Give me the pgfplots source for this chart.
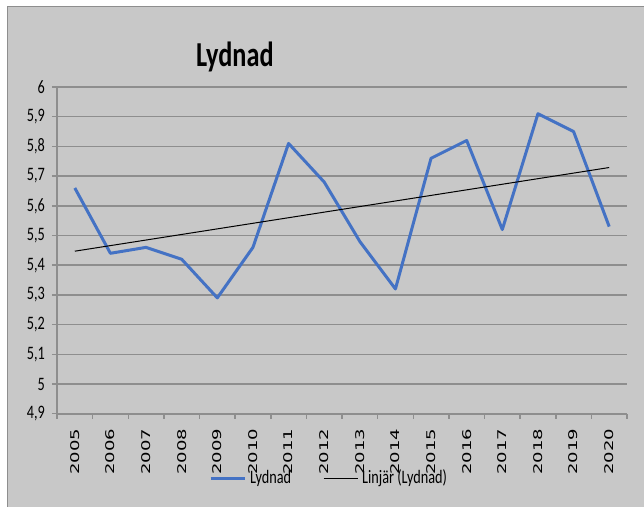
\documentclass[border=0pt]{standalone}
\usepackage{fontspec}
\setmainfont{Carlito}[FakeStretch=0.75]
\newfontfamily\yrfont{DejaVu Sans}[FakeStretch=1.5]
\usepackage{pgfplots}
\usepackage{pgfplotstable}
\pgfplotsset{compat=1.18}

\definecolor{bg}{HTML}{C8C8C8}
\definecolor{gridc}{HTML}{8E8E8E}
\definecolor{lyd}{HTML}{4472C4}

% Lydnad per year (x = index, 0 = 2005)
\pgfplotstableread{
x year y
0  2005 5.66
1  2006 5.44
2  2007 5.46
3  2008 5.42
4  2009 5.29
5  2010 5.46
6  2011 5.81
7  2012 5.68
8  2013 5.48
9  2014 5.32
10 2015 5.76
11 2016 5.82
12 2017 5.52
13 2018 5.91
14 2019 5.85
15 2020 5.53
}\lydnad

\begin{document}
\begin{tikzpicture}
\useasboundingbox (-28.5bp,-46.65bp) rectangle (293.5bp,206.85bp);
\fill[bg] (-24.75bp,-46.65bp) rectangle (293.5bp,203.6bp);
\draw[gridc, line width=0.8bp] (-24.75bp,-46.65bp) -- (-24.75bp,203.6bp) -- (293.5bp,203.6bp);
\begin{axis}[
    at={(0,0)}, anchor=south west,
    scale only axis,
    width=285bp, height=163.35bp,
    xmin=-0.5, xmax=15.5,
    ymin=4.9, ymax=6,
    axis lines*=left,
    axis line style={gridc, line width=0.8bp},
    xtick={-0.5,0.5,...,15.5},
    x tick label as interval,
    xticklabels={2005,2006,2007,2008,2009,2010,2011,2012,2013,2014,2015,2016,2017,2018,2019,2020},
    ytick={4.9,5.0,5.1,5.2,5.3,5.4,5.5,5.6,5.7,5.8,5.9,6.0},
    ymajorgrids,
    grid style={gridc, line width=0.75bp},
    tick align=outside,
    major tick length=2.5bp,
    tick style={gridc, line width=0.75bp},
    /pgf/number format/.cd, fixed, precision=1, use comma, assume math mode=true,
    /pgfplots/.cd,
    yticklabel style={font=\fontsize{9.5bp}{10bp}\selectfont},
    xticklabel style={font=\yrfont\fontsize{6bp}{7bp}\selectfont, yshift=-1.5bp, rotate=90, anchor=east},
    legend style={at={(0.479,-0.197)}, anchor=center, draw=none, fill=none,
        legend columns=2, font=\fontsize{9.5bp}{10bp}\selectfont,
        /tikz/every even column/.append style={column sep=14bp}},
    clip=false,
]
\addplot[lyd, line width=1.5bp, line join=round, no markers] table[x=x, y=y] {\lydnad};
\addplot[black, line width=0.5bp, no markers] table[x=x, y={create col/linear regression={y=y}}] {\lydnad};
\legend{Lydnad, Linjär (Lydnad)}
\node[font=\bfseries\fontsize{17.5bp}{18bp}\selectfont] at (rel axis cs:0.312,1.092) {Lydnad};
\end{axis}
\end{tikzpicture}
\end{document}
